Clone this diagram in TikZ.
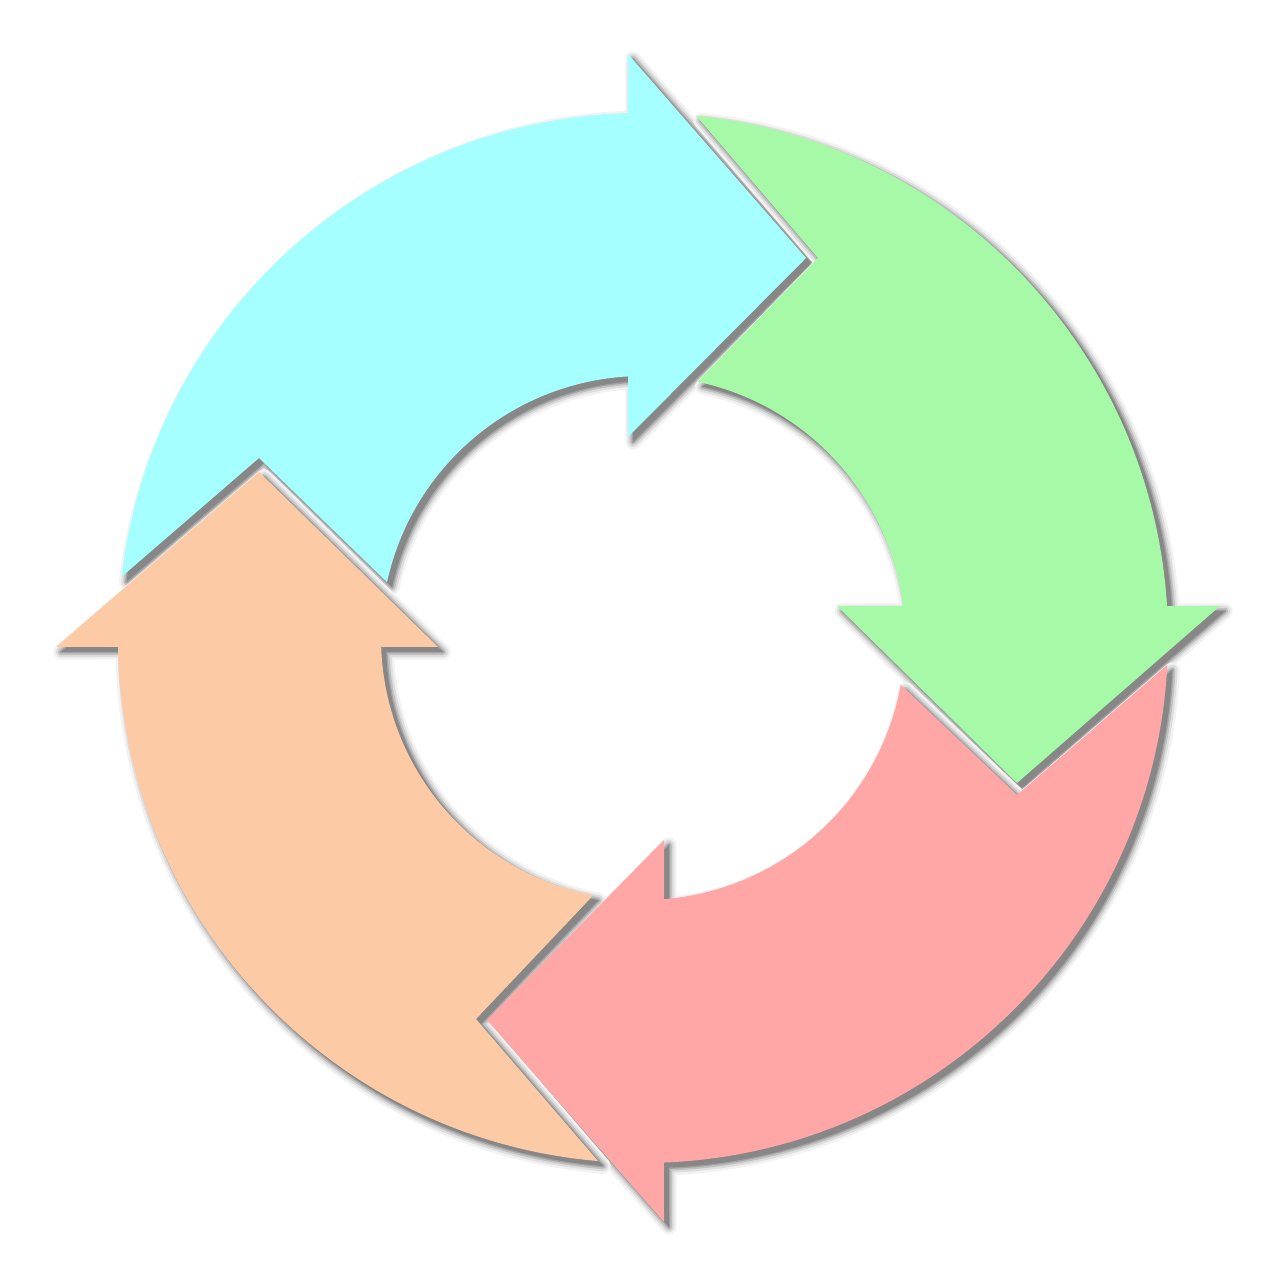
\documentclass[tikz,border=0pt]{standalone}
\definecolor{cyanA}{HTML}{A6FFFF}
\definecolor{greenA}{HTML}{A6F9A6}
\definecolor{redA}{HTML}{FFA6A6}
\definecolor{orangeA}{HTML}{FDCAA6}
\tikzset{
  shadowring/.style={line join=round},
  arrowfill/.style={line join=miter}
}
\newcommand\Ro{5.25}
\newcommand\Ri{2.62}
\newcommand\cyanpath{(173.3:\Ro) arc[start angle=173.3, end angle=91.64, radius=\Ro] -- (-0.15,5.84) -- (1.63,3.80) -- (-0.15,2.01) -- (93.28:\Ri) arc[start angle=93.28, end angle=167.7, radius=\Ri] -- (-3.84,1.80) -- cycle}
\newcommand\greenpath{(84.2:\Ro) arc[start angle=84.2, end angle=3.49, radius=\Ro] -- (5.77,0.32) -- (3.74,-1.45) -- (1.94,0.32) -- (7.02:\Ri) arc[start angle=7.02, end angle=77.97, radius=\Ri] -- (1.75,3.80) -- cycle}
\newcommand\redpath{(-2.94:\Ro) arc[start angle=-2.94, end angle=-87.71, radius=\Ro] -- (0.21,-5.84) -- (-1.56,-3.82) -- (0.21,-2.02) -- (-85.40:\Ri) arc[start angle=-85.40, end angle=-10.29, radius=\Ri] -- (3.74,-1.57) -- cycle}
\newcommand\orangepath{(265.09:\Ro) arc[start angle=265.09, end angle=180.98, radius=\Ro] -- (-5.87,-0.09) -- (-3.84,1.66) -- (-2.05,-0.09) -- (181.97:\Ri) arc[start angle=181.97, end angle=259.07, radius=\Ri] -- (-1.67,-3.81) -- cycle}
\newcommand\shadowof[1]{%
  \draw[shadowring, black!5, line width=4.4pt] #1;
  \draw[shadowring, black!13, line width=3.0pt] #1;
  \draw[shadowring, black!24, line width=1.8pt] #1;
  \draw[shadowring, black!36, line width=0.8pt] #1;
  \fill[black!47] #1;
}
\begin{document}
\begin{tikzpicture}
\useasboundingbox (-6.43,-6.42) rectangle (6.31,6.38);
\begin{scope}[shift={(0.05,-0.05)}]
  \shadowof{\cyanpath}
  \shadowof{\greenpath}
  \shadowof{\redpath}
  \shadowof{\orangepath}
\end{scope}
\fill[arrowfill, cyanA] \cyanpath;
\fill[arrowfill, greenA] \greenpath;
\fill[arrowfill, redA] \redpath;
\fill[arrowfill, orangeA] \orangepath;
\end{tikzpicture}
\end{document}
